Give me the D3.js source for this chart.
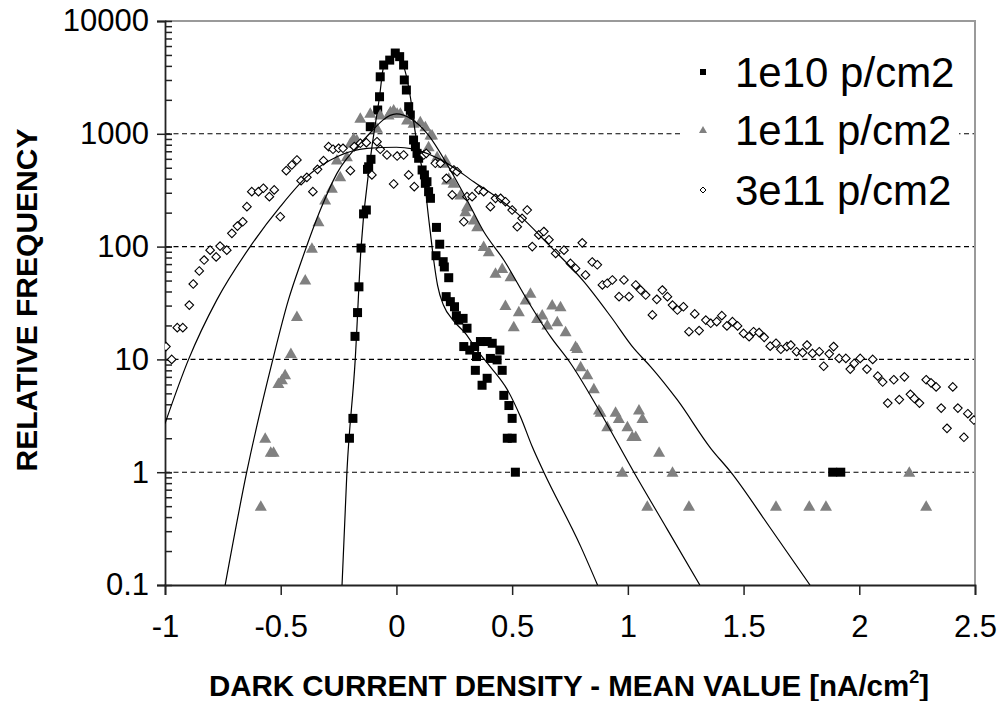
<!DOCTYPE html>
<html>
<head>
<meta charset="utf-8">
<script src="https://cdn.jsdelivr.net/npm/d3@7"></script>
<style>
  body { margin: 0; background: #fff; }
  svg { display: block; font-family: "Liberation Sans", Arial, sans-serif; }
</style>
</head>
<body>
<svg id="chart" width="997" height="701"></svg>
<script>
// Axis ticks
const xTicks = [-1, -0.5, 0, 0.5, 1, 1.5, 2, 2.5];
const yTicks = [0.1, 1, 10, 100, 1000, 10000];
const gridValues = [1, 10, 100, 1000];
const seriesNames = ["1e10 p/cm2", "1e11 p/cm2", "3e11 p/cm2"];

// Measured histograms: [dark current - mean, relative frequency]
const data1e10 = [
  [-0.203, 2.0], [-0.188, 3.0], [-0.179, 16], [-0.168, 26], [-0.162, 44], [-0.153, 97],
  [-0.142, 195], [-0.130, 211], [-0.125, 484], [-0.120, 510], [-0.110, 594], [-0.113, 1156],
  [-0.081, 1625], [-0.073, 2130], [-0.070, 3200], [-0.055, 4070], [-0.029, 4500], [-0.005, 5200],
  [0.014, 4830], [0.031, 4070], [0.034, 3000], [0.043, 2445], [0.053, 1740], [0.060, 1468],
  [0.074, 881], [0.082, 769], [0.089, 671], [0.096, 607], [0.111, 478], [0.121, 432],
  [0.125, 364], [0.132, 376], [0.139, 307], [0.147, 268], [0.173, 148], [0.187, 105],
  [0.171, 83], [0.202, 73.5], [0.207, 66], [0.226, 53], [0.215, 36], [0.233, 32.5],
  [0.251, 29.3], [0.259, 24.4], [0.269, 22.3], [0.288, 23.1], [0.305, 18.9], [0.291, 13],
  [0.317, 12.1], [0.338, 13], [0.363, 14.4], [0.392, 14.4], [0.414, 13.9], [0.447, 12.1],
  [0.346, 10.6], [0.341, 8.0], [0.406, 10.2], [0.435, 9.9], [0.457, 8.0], [0.392, 6.8],
  [0.370, 5.9], [0.464, 4.8], [0.486, 3.9], [0.500, 3.0], [0.479, 2.0], [0.500, 2.0],
  [0.514, 1.0], [1.885, 1.0], [1.920, 1.0]
];
const data1e11 = [
  [-0.586, 0.5], [-0.567, 2.0], [-0.543, 1.5], [-0.531, 1.5], [-0.510, 6.1], [-0.495, 6.6],
  [-0.481, 7.3], [-0.456, 11.3], [-0.430, 24], [-0.394, 50.6], [-0.365, 96.6], [-0.337, 166],
  [-0.308, 259], [-0.279, 329], [-0.257, 586], [-0.243, 417], [-0.214, 627], [-0.199, 824],
  [-0.185, 912], [-0.171, 881], [-0.156, 1371], [-0.113, 1520], [-0.084, 1119], [-0.070, 1469],
  [-0.034, 1469], [-0.026, 1572], [-0.012, 1626], [0.003, 1520], [0.017, 1520], [0.046, 1325],
  [0.074, 1239], [0.103, 1280], [0.125, 1156], [0.147, 975], [0.154, 975], [0.139, 769],
  [0.176, 627], [0.204, 548], [0.212, 586], [0.219, 389], [0.226, 403], [0.247, 364],
  [0.276, 287], [0.298, 204], [0.305, 226], [0.334, 172], [0.349, 150], [0.377, 100],
  [0.399, 90], [0.428, 58], [0.457, 64], [0.471, 30], [0.493, 54], [0.507, 19.5],
  [0.529, 26.5], [0.558, 33.7], [0.579, 38.6], [0.608, 23.1], [0.630, 24.8], [0.652, 20.2],
  [0.673, 30.4], [0.695, 21.6], [0.709, 29.3], [0.731, 17.6], [0.774, 13], [0.781, 12.5],
  [0.796, 8.6], [0.825, 7.3], [0.853, 5.5], [0.875, 3.56], [0.882, 3.4], [0.911, 2.53],
  [0.947, 3.4], [0.961, 3.0], [0.976, 1.0], [0.998, 2.53], [1.019, 2.07], [1.034, 2.07],
  [1.048, 3.56], [1.063, 3.0], [1.084, 0.5], [1.135, 1.5], [1.193, 1.0], [1.264, 0.5],
  [1.640, 0.5], [1.784, 0.5], [1.856, 0.5], [2.216, 1.0], [2.289, 0.5]
];
const data3e11 = [
  [-0.996, 13], [-0.971, 10], [-0.947, 19.1], [-0.923, 19.1], [-0.895, 30.3], [-0.878, 46.6],
  [-0.852, 60.8], [-0.831, 76], [-0.805, 93], [-0.779, 81], [-0.762, 101], [-0.733, 93],
  [-0.711, 131], [-0.687, 152], [-0.664, 166], [-0.646, 226], [-0.625, 307], [-0.596, 307],
  [-0.575, 329], [-0.549, 277], [-0.528, 318], [-0.502, 184], [-0.476, 471], [-0.452, 529],
  [-0.430, 586], [-0.412, 384], [-0.387, 411], [-0.361, 307], [-0.341, 484], [-0.315, 578],
  [-0.293, 769], [-0.274, 729], [-0.250, 744], [-0.231, 744], [-0.199, 471], [-0.182, 769],
  [-0.156, 824], [-0.130, 834], [-0.106, 432], [-0.084, 851], [-0.070, 729], [-0.041, 649],
  [-0.012, 359], [0.003, 635], [0.031, 649], [0.053, 432], [0.077, 340], [0.118, 649],
  [0.129, 671], [0.168, 548], [0.190, 548], [0.216, 403], [0.241, 287], [0.248, 478],
  [0.262, 461], [0.291, 166], [0.305, 277], [0.327, 277], [0.356, 318], [0.377, 307],
  [0.406, 226], [0.428, 268], [0.450, 268], [0.471, 250], [0.500, 211], [0.522, 150],
  [0.543, 178], [0.565, 211], [0.587, 100], [0.615, 127], [0.637, 136], [0.659, 115],
  [0.688, 87], [0.724, 93], [0.752, 71], [0.774, 64], [0.803, 108], [0.817, 56],
  [0.846, 73], [0.868, 69], [0.890, 45.7], [0.911, 47.3], [0.933, 50.6], [0.962, 36],
  [0.983, 50.6], [1.005, 36], [1.034, 45.7], [1.055, 41.2], [1.077, 37.2], [1.106, 24.8],
  [1.125, 34.1], [1.149, 41.2], [1.171, 36], [1.193, 30.3], [1.214, 27.4], [1.240, 29.3],
  [1.264, 17.6], [1.289, 25.3], [1.308, 18], [1.337, 22.3], [1.358, 20.9], [1.384, 21.6],
  [1.406, 24.4], [1.428, 19.8], [1.452, 21.6], [1.474, 19.8], [1.500, 17], [1.524, 15.9],
  [1.543, 17.6], [1.567, 17.3], [1.589, 15.7], [1.615, 13.1], [1.640, 13.9], [1.661, 12.3],
  [1.687, 13], [1.704, 13.4], [1.729, 11.7], [1.755, 11.5], [1.774, 13.4], [1.798, 11.3],
  [1.827, 11.7], [1.846, 8.7], [1.870, 11.2], [1.889, 13], [1.913, 10.2], [1.942, 10.2],
  [1.961, 8.2], [1.978, 9.2], [2.004, 10.2], [2.033, 8.2], [2.058, 10], [2.080, 7.1],
  [2.101, 6.3], [2.123, 4.1], [2.149, 6.6], [2.173, 4.4], [2.195, 7.0], [2.221, 4.9],
  [2.238, 4.5], [2.260, 4.1], [2.289, 6.6], [2.310, 6.2], [2.332, 5.7], [2.354, 3.7],
  [2.379, 2.45], [2.404, 5.7], [2.426, 3.7], [2.452, 2.04], [2.469, 3.3], [2.495, 2.9]
];

// Fitted distributions, sampled along each curve
const fit1e10 = [
  [-0.235, 0.1], [-0.214, 1], [-0.178, 10], [-0.153, 97], [-0.113, 590], [-0.073, 2130],
  [-0.055, 3940], [-0.005, 4800], [0.031, 3940], [0.060, 2130], [0.082, 1010], [0.103, 586],
  [0.125, 340], [0.132, 242], [0.147, 131], [0.161, 76], [0.178, 45], [0.204, 30],
  [0.247, 22], [0.298, 17], [0.348, 12.1], [0.406, 8.6], [0.479, 5.4], [0.536, 3.1],
  [0.587, 1.68], [0.637, 1], [0.796, 0.22], [0.869, 0.1]
];
const fit1e11 = [
  [-0.740, 0.1], [-0.647, 1], [-0.534, 10], [-0.466, 34], [-0.409, 76], [-0.329, 211],
  [-0.257, 446], [-0.142, 881], [0.000, 1500], [0.132, 1010], [0.233, 478], [0.305, 259],
  [0.377, 136], [0.464, 76], [0.565, 33.7], [0.666, 15.9], [0.753, 9.2], [0.875, 3.56],
  [1.026, 1], [1.171, 0.31], [1.311, 0.1]
];
const fit3e11 = [
  [-1.000, 2.7], [-0.899, 9.9], [-0.776, 33.7], [-0.632, 100], [-0.502, 226],
  [-0.387, 417], [-0.257, 627], [-0.127, 744], [0.000, 760], [0.070, 735], [0.219, 547],
  [0.334, 376], [0.450, 259], [0.522, 197], [0.666, 100], [0.810, 48.9], [0.926, 24],
  [1.026, 12.5], [1.099, 8.6], [1.214, 4.37], [1.358, 1.63], [1.445, 1], [1.611, 0.33],
  [1.787, 0.1]
];

const plot = { left: 165, right: 975, top: 21, bottom: 585 };
const svg = d3.select("#chart");

const x = d3.scaleLinear().domain([-1, 2.5]).range([plot.left, plot.right]);
const y = d3.scaleLog().domain([0.1, 10000]).range([plot.bottom, plot.top]);

svg.append("defs").append("clipPath").attr("id", "plotClip")
  .append("rect")
  .attr("x", plot.left).attr("y", plot.top)
  .attr("width", plot.right - plot.left).attr("height", plot.bottom - plot.top);

// Dashed horizontal gridlines at each decade
svg.append("g")
  .selectAll("line").data(gridValues).join("line")
  .attr("x1", plot.left).attr("x2", plot.right)
  .attr("y1", d => y(d)).attr("y2", d => y(d))
  .attr("stroke", "#000").attr("stroke-width", 1.1)
  .attr("stroke-dasharray", "5,3.5");

// Gray frame on top and right
svg.append("path")
  .attr("d", `M${plot.left},${plot.top}H${plot.right}V${plot.bottom}`)
  .attr("fill", "none").attr("stroke", "#9a9a9a").attr("stroke-width", 2);

// Y axis: outer major ticks with labels, inner minor ticks
const minorValues = [];
[0.1, 1, 10, 100, 1000].forEach(dec => {
  for (let k = 1; k <= 10; k++) minorValues.push(dec * k);
});

const tickFont = 31;
const yAxis = svg.append("g")
  .attr("transform", `translate(${plot.left},0)`)
  .call(d3.axisLeft(y).tickValues(yTicks).tickSize(8).tickPadding(8)
    .tickFormat(d => String(d)));
yAxis.selectAll("text").attr("font-size", tickFont).attr("fill", "#000")
  .attr("font-family", "Liberation Sans, Arial, sans-serif");

const yInner = svg.append("g")
  .attr("transform", `translate(${plot.left},0)`)
  .call(d3.axisRight(y).tickValues(minorValues).tickSize(7).tickFormat(""));
yInner.select(".domain").remove();

const xAxis = svg.append("g")
  .attr("transform", `translate(0,${plot.bottom})`)
  .call(d3.axisBottom(x).tickValues(xTicks).tickSize(10).tickPadding(20)
    .tickFormat(d => String(d)));
xAxis.selectAll("text").attr("font-size", tickFont).attr("fill", "#000")
  .attr("font-family", "Liberation Sans, Arial, sans-serif");

[yAxis, yInner, xAxis].forEach(g => {
  g.selectAll("line").attr("stroke", "#222").attr("stroke-width", 1.5);
  g.selectAll(".domain").attr("stroke", "#222").attr("stroke-width", 1.8);
});

// Markers
const marks = svg.append("g").attr("clip-path", "url(#plotClip)");
const sq = 9;
marks.append("g").selectAll("rect").data(data1e10).join("rect")
  .attr("x", d => x(d[0]) - sq / 2).attr("y", d => y(d[1]) - sq / 2)
  .attr("width", sq).attr("height", sq).attr("fill", "#000");

const triPath = "M0,-6L6,4.5L-6,4.5Z";
marks.append("g").selectAll("path").data(data1e11).join("path")
  .attr("d", triPath)
  .attr("transform", d => `translate(${x(d[0])},${y(d[1])})`)
  .attr("fill", "#808080");

const diaPath = "M0,-4.3L4.3,0L0,4.3L-4.3,0Z";
marks.append("g").selectAll("path").data(data3e11).join("path")
  .attr("d", diaPath)
  .attr("transform", d => `translate(${x(d[0])},${y(d[1])})`)
  .attr("fill", "#fff").attr("stroke", "#000").attr("stroke-width", 1.1);

// Fitted curves
const line = d3.line().x(d => x(d[0])).y(d => y(d[1])).curve(d3.curveMonotoneX);
svg.append("g").attr("clip-path", "url(#plotClip)")
  .selectAll("path").data([fit1e10, fit1e11, fit3e11]).join("path")
  .attr("d", line)
  .attr("fill", "none").attr("stroke", "#000").attr("stroke-width", 1.2);

// Legend
const legend = svg.append("g");
legend.append("rect")
  .attr("x", 681).attr("y", 42).attr("width", 278).attr("height", 176)
  .attr("fill", "#fff");
const rowsY = [72, 130, 190];
legend.append("rect").attr("x", 703 - 3).attr("y", rowsY[0] - 3)
  .attr("width", 6).attr("height", 6).attr("fill", "#000");
legend.append("path").attr("d", "M0,-4L4,3L-4,3Z")
  .attr("transform", `translate(703,${rowsY[1]})`).attr("fill", "#808080");
legend.append("path").attr("d", "M0,-3L3,0L0,3L-3,0Z")
  .attr("transform", `translate(703,${rowsY[2]})`)
  .attr("fill", "#fff").attr("stroke", "#000").attr("stroke-width", 1);
legend.selectAll("text").data(seriesNames).join("text")
  .attr("x", 735).attr("y", (d, i) => rowsY[i] + 15)
  .attr("font-size", 42).attr("fill", "#000")
  .text(d => d);

// Axis titles
const xTitle = svg.append("text")
  .attr("x", 569).attr("y", 696)
  .attr("text-anchor", "middle").attr("font-size", 29.5).attr("font-weight", "bold");
xTitle.append("tspan").text("DARK CURRENT DENSITY - MEAN VALUE [nA/cm");
xTitle.append("tspan").attr("font-size", 18).attr("dy", -13).text("2");
xTitle.append("tspan").attr("dy", 13).text("]");

svg.append("text")
  .attr("transform", "translate(37,300) rotate(-90)")
  .attr("text-anchor", "middle").attr("font-size", 30).attr("font-weight", "bold")
  .text("RELATIVE FREQUENCY");
</script>
</body>
</html>
